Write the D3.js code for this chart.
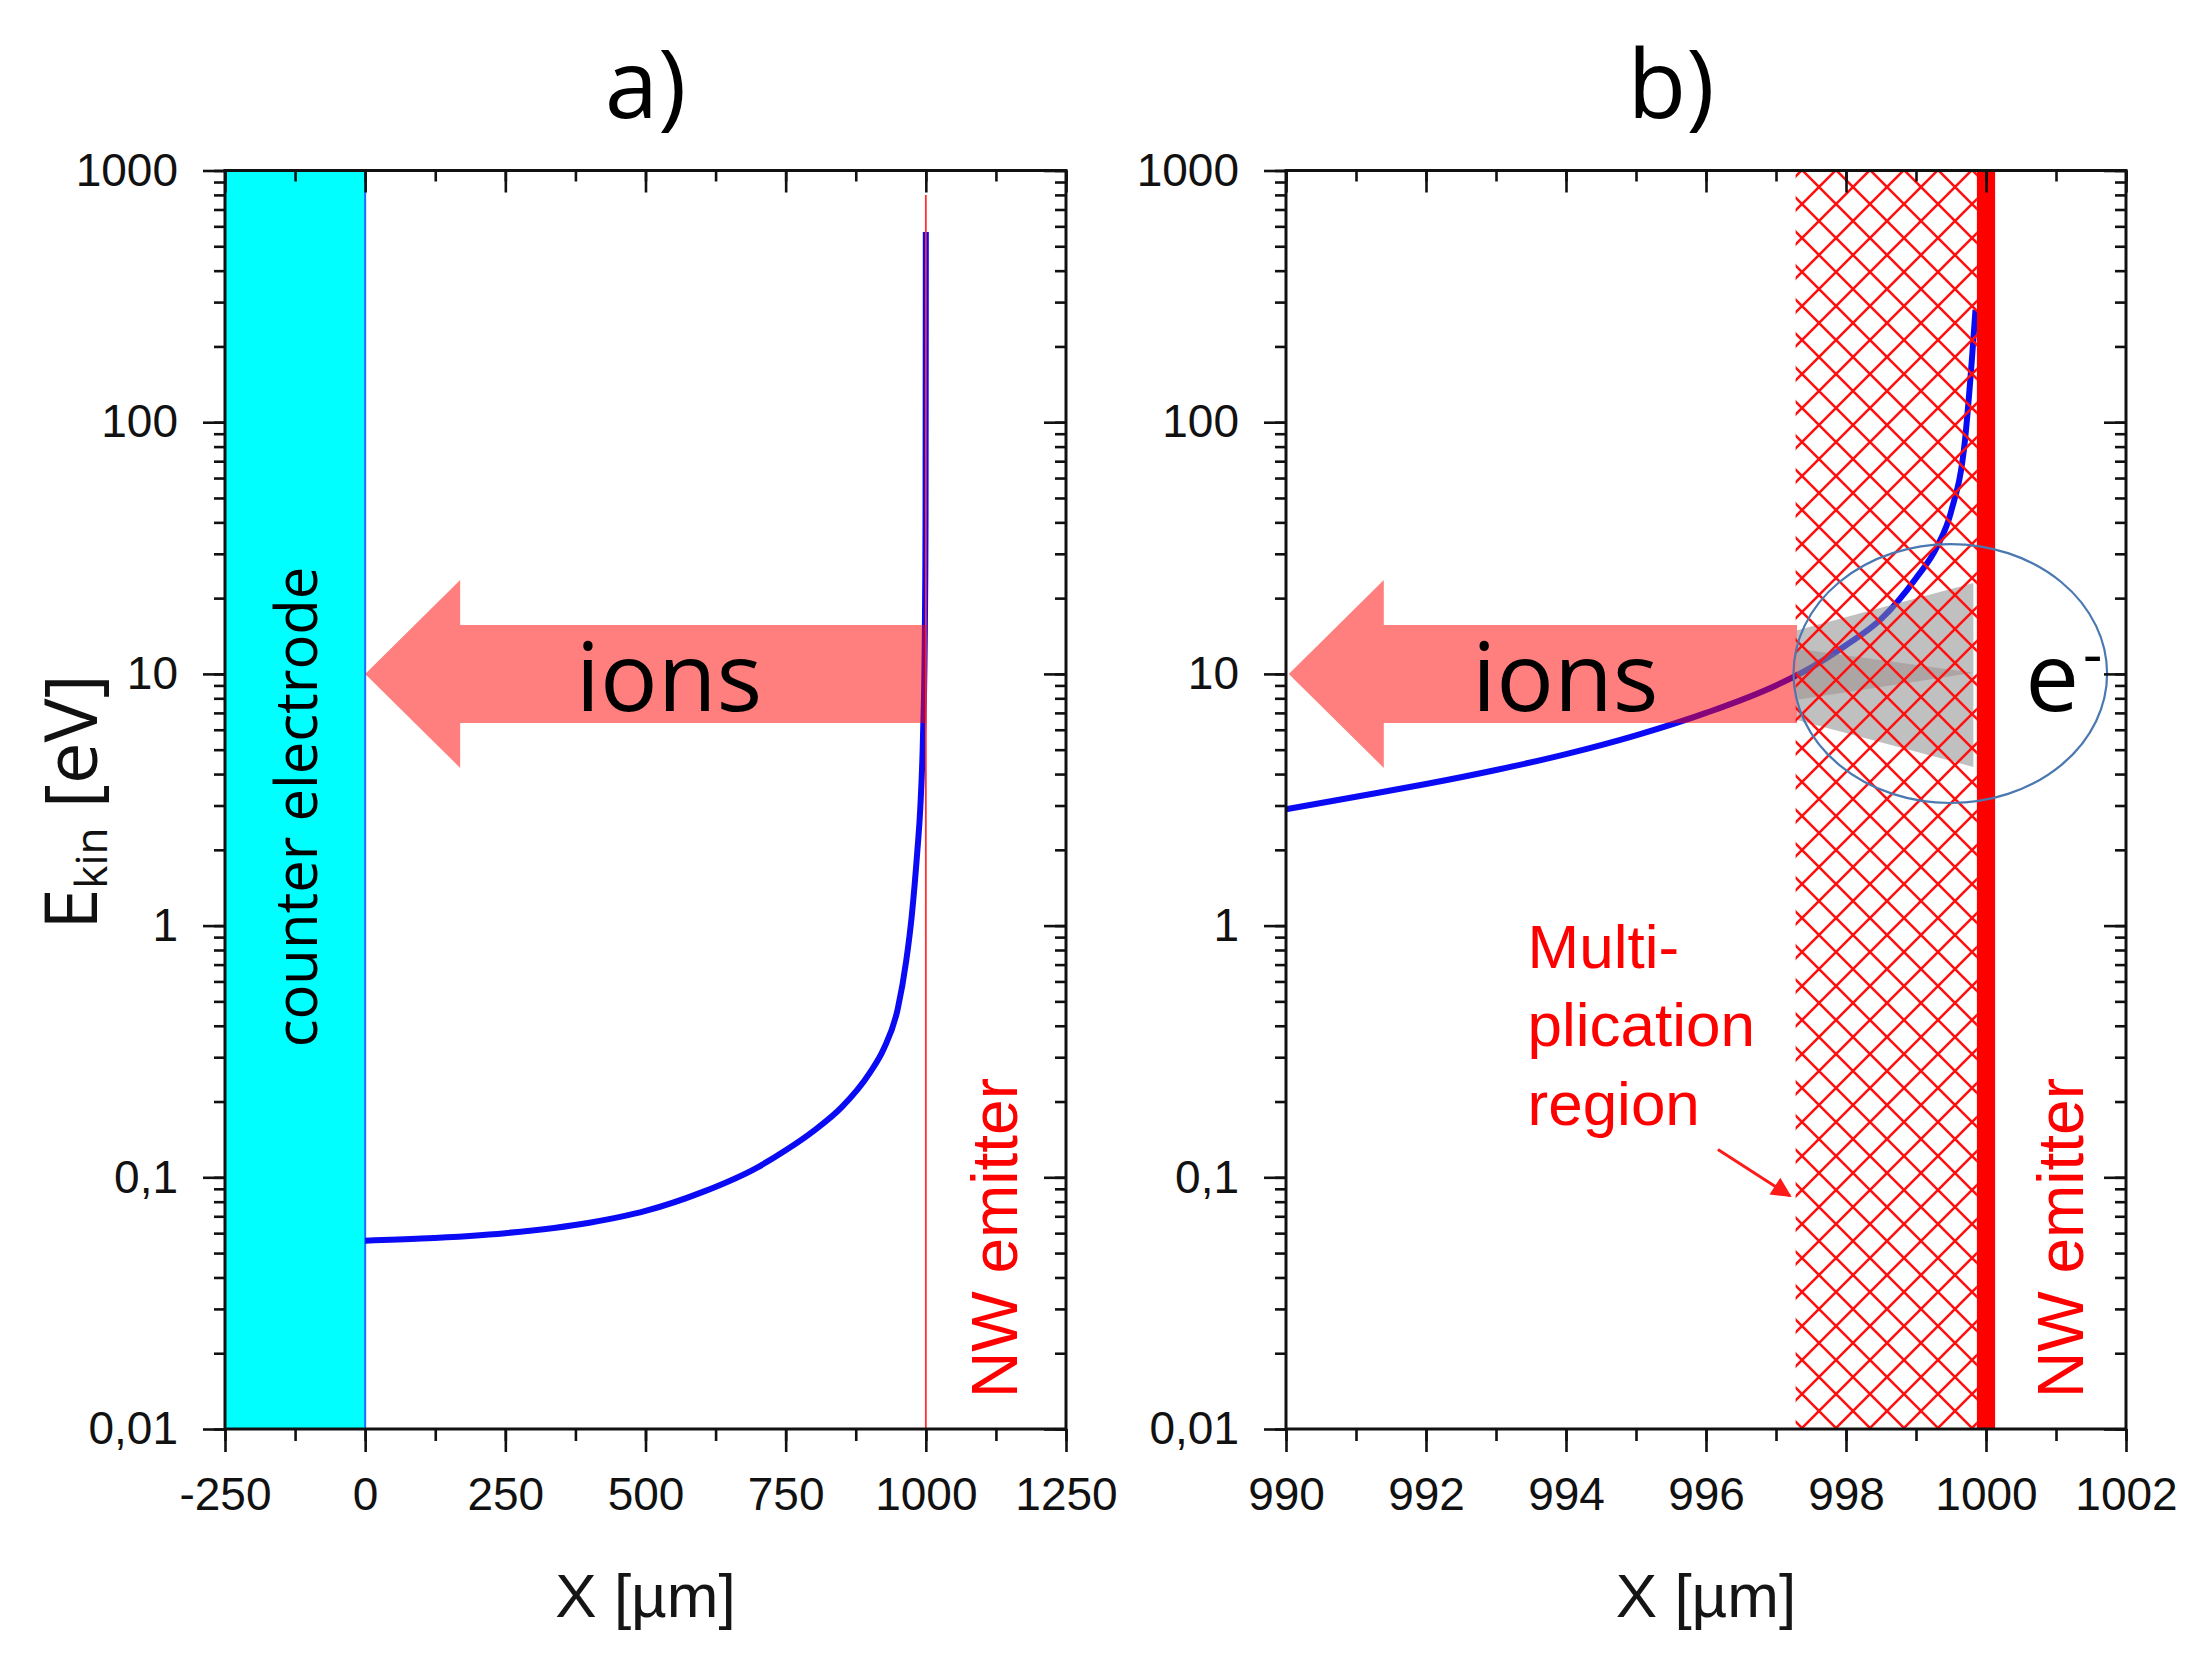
<!DOCTYPE html>
<html>
<head>
<meta charset="utf-8">
<script src="https://cdn.jsdelivr.net/npm/d3@7"></script>
<style>
  body { margin: 0; background: #fff; }
</style>
</head>
<body>
<script>
// axis ticks
var yTickValues = [0.01, 0.1, 1, 10, 100, 1000];
var yTickLabels = ["0,01", "0,1", "1", "10", "100", "1000"];
var xTicksA = [-250, 0, 250, 500, 750, 1000, 1250];
var xTicksB = [990, 992, 994, 996, 998, 1000, 1002];

// ion kinetic energy, panel a (full gap)
var curveAx = [0, 100, 250, 400, 500, 600, 700, 750, 800, 850, 900, 925, 950, 965, 975, 985, 990, 995, 998, 999, 999.5, 999.8, 1000];
var curveAy = [0.056, 0.0571, 0.060, 0.066, 0.0735, 0.0871, 0.1096, 0.128, 0.153, 0.19, 0.26, 0.324, 0.468, 0.724, 1.1, 2.0, 2.9, 5.7, 13, 24, 44, 180, 570];

// ion kinetic energy, panel b (last 10 um)
var curveBx = [990, 991, 992, 993, 994, 995, 996, 997, 997.5, 998, 998.5, 999, 999.3, 999.5, 999.7, 999.8, 999.85];
var curveBy = [2.9, 3.25, 3.65, 4.15, 4.8, 5.7, 7.0, 9.0, 10.6, 13.0, 16.5, 24, 32, 44, 85, 180, 280];

var width = 2202,
    height = 1672,
    plotTop = 170.5,
    plotBottom = 1429;

var svg = d3.select("body")
    .append("svg")
    .attr("width", width)
    .attr("height", height);

var defs = svg.append("defs");
//cross hatch for the multiplication region
defs.append("pattern")
    .attr("id", "hatch")
    .attr("patternUnits", "userSpaceOnUse")
    .attr("width", 34)
    .attr("height", 34)
    .append("path")
    .attr("d", "M0,0 L34,34 M0,34 L34,0")
    .style("stroke", "#ff1010")
    .style("stroke-width", 2.6)
    .style("fill", "none");
defs.append("marker")
    .attr("id", "redhead")
    .attr("markerUnits", "userSpaceOnUse")
    .attr("viewBox", "0 0 10 10")
    .attr("refX", 9)
    .attr("refY", 5)
    .attr("markerWidth", 26)
    .attr("markerHeight", 20)
    .attr("orient", "auto")
    .append("path")
    .attr("d", "M0,0 L10,5 L0,10 z")
    .style("fill", "#ff1a1a");

var y = d3.scaleLog().domain([0.01, 1000]).range([plotBottom, plotTop]);
var xA = d3.scaleLinear().domain([-250, 1250]).range([225, 1066]);
var xB = d3.scaleLinear().domain([990, 1002]).range([1286, 2126]);

var tickFont = "'Liberation Sans', Arial, sans-serif";
var calFont = "'Open Sans', 'Noto Sans', sans-serif";

var zip = function (xs, ys) {
    return xs.map(function (d, i) { return [d, ys[i]]; });
};

//big translucent "ions" arrow pointing to the left
var drawArrow = function (g, x, tipX, tailX) {
    var tx = x(tipX), ex = x(tailX), cy = y(10);
    var headLen = 95, headHalf = 94, shaftHalf = 49;
    g.append("path")
        .attr("d", "M" + tx + "," + cy +
            " L" + (tx + headLen) + "," + (cy - headHalf) +
            " L" + (tx + headLen) + "," + (cy - shaftHalf) +
            " L" + ex + "," + (cy - shaftHalf) +
            " L" + ex + "," + (cy + shaftHalf) +
            " L" + (tx + headLen) + "," + (cy + shaftHalf) +
            " L" + (tx + headLen) + "," + (cy + headHalf) + " Z")
        .style("fill", "#ff0000")
        .style("opacity", 0.5);
};

var drawCurve = function (g, x, pts) {
    g.append("path")
        .datum(pts)
        .attr("d", d3.line()
            .x(function (d) { return x(d[0]); })
            .y(function (d) { return y(d[1]); })
            .curve(d3.curveMonotoneX))
        .style("fill", "none")
        .style("stroke", "#0a0af5")
        .style("stroke-width", 6);
};

var rotatedText = function (g, px, py, txt, font, size, color) {
    g.append("text")
        .attr("transform", "translate(" + px + "," + py + ") rotate(-90)")
        .attr("text-anchor", "middle")
        .style("font-family", font)
        .style("font-size", size + "px")
        .style("fill", color)
        .text(txt);
};

//frame, major and minor ticks on all four sides
var drawAxes = function (g, x, xMajor, xMinor) {
    var left = x.range()[0], right = x.range()[1];
    var yMinor = y.ticks();
    var fmt = function (d) { return String(d); };
    var bottomAx = g.append("g")
        .attr("transform", "translate(0," + plotBottom + ")")
        .call(d3.axisBottom(x).tickValues(xMajor).tickSize(23).tickSizeOuter(0).tickPadding(25).tickFormat(fmt));
    g.append("g")
        .attr("transform", "translate(0," + plotBottom + ")")
        .call(d3.axisBottom(x).tickValues(xMinor).tickSize(12).tickSizeOuter(0).tickFormat(""));
    g.append("g")
        .attr("transform", "translate(0," + plotTop + ")")
        .call(d3.axisTop(x).tickValues(xMajor).tickSize(-22).tickSizeOuter(0).tickFormat(""));
    g.append("g")
        .attr("transform", "translate(0," + plotTop + ")")
        .call(d3.axisTop(x).tickValues(xMinor).tickSize(-11).tickSizeOuter(0).tickFormat(""));
    var leftAx = g.append("g")
        .attr("transform", "translate(" + left + ",0)")
        .call(d3.axisLeft(y).tickValues(yTickValues).tickSize(22).tickSizeOuter(0).tickPadding(25)
            .tickFormat(function (d, i) { return yTickLabels[i]; }));
    g.append("g")
        .attr("transform", "translate(" + left + ",0)")
        .call(d3.axisLeft(y).tickValues(yMinor).tickSize(11).tickSizeOuter(0).tickFormat(""));
    g.append("g")
        .attr("transform", "translate(" + right + ",0)")
        .call(d3.axisRight(y).tickValues(yTickValues).tickSize(-22).tickSizeOuter(0).tickFormat(""));
    g.append("g")
        .attr("transform", "translate(" + right + ",0)")
        .call(d3.axisRight(y).tickValues(yMinor).tickSize(-11).tickSizeOuter(0).tickFormat(""));
    g.selectAll(".domain").remove();
    g.selectAll(".tick line").style("stroke", "#111").style("stroke-width", 2.6);
    [bottomAx, leftAx].forEach(function (a) {
        a.selectAll("text")
            .style("font-family", tickFont)
            .style("font-size", "46px")
            .style("fill", "#111");
    });
    g.append("rect")
        .attr("x", left)
        .attr("y", plotTop)
        .attr("width", right - left)
        .attr("height", plotBottom - plotTop)
        .style("fill", "none")
        .style("stroke", "#111")
        .style("stroke-width", 3);
    //x axis title
    g.append("text")
        .attr("x", (left + right) / 2)
        .attr("y", 1617)
        .attr("text-anchor", "middle")
        .style("font-family", tickFont)
        .style("font-size", "62px")
        .style("fill", "#151515")
        .text("X [\u00b5m]");
};

// ---------------- panel a ----------------
var gA = svg.append("g");

//counter electrode block
gA.append("rect")
    .attr("x", xA(-250))
    .attr("y", plotTop)
    .attr("width", xA(0) - xA(-250))
    .attr("height", plotBottom - plotTop)
    .style("fill", "#00ffff")
    .style("stroke", "#1e6cff")
    .style("stroke-width", 2);
rotatedText(gA, xA(-125) + 22, 807, "counter electrode", calFont, 58, "#000");

drawCurve(gA, xA, zip(curveAx, curveAy));

//emitter position
gA.append("line")
    .attr("x1", xA(1000))
    .attr("x2", xA(1000))
    .attr("y1", y(800))
    .attr("y2", plotBottom)
    .style("stroke", "#ff3030")
    .style("stroke-width", 1.8);

drawArrow(gA, xA, 0, 1000);
gA.append("text")
    .attr("x", xA(542))
    .attr("y", y(10) + 37)
    .attr("text-anchor", "middle")
    .style("font-family", calFont)
    .style("font-size", "96px")
    .style("fill", "#000")
    .text("ions");
rotatedText(gA, xA(1162), 1238, "NW emitter", tickFont, 64, "#ff0000");

drawAxes(gA, xA, xTicksA, d3.range(-250, 1251, 125));

gA.append("text")
    .attr("x", (xA.range()[0] + xA.range()[1]) / 2)
    .attr("y", 118)
    .attr("text-anchor", "middle")
    .style("font-family", calFont)
    .style("font-size", "96px")
    .text("a)");

//y axis title
var yLab = gA.append("text")
    .attr("transform", "translate(97,802) rotate(-90)")
    .attr("text-anchor", "middle")
    .style("font-family", calFont)
    .style("font-size", "74px")
    .style("fill", "#111");
yLab.append("tspan").text("E");
yLab.append("tspan").attr("dy", 10).style("font-size", "44px").text("kin");
yLab.append("tspan").attr("dy", -10).text(" [eV]");

// ---------------- panel b ----------------
var gB = svg.append("g");

drawCurve(gB, xB, zip(curveBx, curveBy));
drawArrow(gB, xB, 990.04, 997.3);

//electron avalanche cone
var cone = function (pts, fill, op) {
    gB.append("path")
        .attr("d", d3.line()
            .x(function (d) { return xB(d[0]); })
            .y(function (d) { return y(d[1]); })(pts) + "Z")
        .style("fill", fill)
        .style("opacity", op);
};
cone([[997.3, 14.9], [999.82, 22.96], [999.82, 4.27], [997.3, 6.56]], "#8c8c8c", 0.55);
cone([[997.3, 12.6], [999.82, 10.1], [997.3, 7.9]], "#8a6f6f", 0.35);

//multiplication region
gB.append("rect")
    .attr("x", xB(997.28))
    .attr("y", plotTop)
    .attr("width", xB(999.87) - xB(997.28))
    .attr("height", plotBottom - plotTop)
    .style("fill", "url(#hatch)");

//nanowire emitter
gB.append("rect")
    .attr("x", xB(999.87))
    .attr("y", plotTop)
    .attr("width", xB(1000.13) - xB(999.87))
    .attr("height", plotBottom - plotTop)
    .style("fill", "#ff0000");

gB.append("ellipse")
    .attr("cx", xB((997.25 + 1001.73) / 2))
    .attr("cy", (y(32.8) + y(3.07)) / 2)
    .attr("rx", (xB(1001.73) - xB(997.25)) / 2)
    .attr("ry", (y(3.07) - y(32.8)) / 2)
    .style("fill", "none")
    .style("stroke", "#4a78b0")
    .style("stroke-width", 2.2);

gB.append("text")
    .attr("x", xB(993.99))
    .attr("y", y(10) + 37)
    .attr("text-anchor", "middle")
    .style("font-family", calFont)
    .style("font-size", "96px")
    .text("ions");

var eLab = gB.append("text")
    .attr("x", xB(1000.56))
    .attr("y", y(10) + 37)
    .style("font-family", calFont)
    .style("font-size", "96px");
eLab.append("tspan").text("e");
eLab.append("tspan").attr("dy", -36).attr("dx", 4).style("font-size", "60px").text("-");

var mult = gB.append("text")
    .attr("x", xB(993.45))
    .attr("y", y(0.68))
    .style("font-family", tickFont)
    .style("font-size", "62px")
    .style("fill", "#ff0000");
["Multi-", "plication", "region"].forEach(function (s, i) {
    mult.append("tspan")
        .attr("x", xB(993.45))
        .attr("dy", i === 0 ? 0 : 78.6)
        .text(s);
});
gB.append("line")
    .attr("x1", xB(996.17))
    .attr("y1", y(0.129))
    .attr("x2", xB(997.2))
    .attr("y2", y(0.0843))
    .attr("marker-end", "url(#redhead)")
    .style("stroke", "#ff1a1a")
    .style("stroke-width", 3);

rotatedText(gB, xB(1001.39), 1238, "NW emitter", tickFont, 64, "#ff0000");

drawAxes(gB, xB, xTicksB, d3.range(990, 1003, 1));

gB.append("text")
    .attr("x", xB(995.5))
    .attr("y", 118)
    .attr("text-anchor", "middle")
    .style("font-family", calFont)
    .style("font-size", "96px")
    .text("b)");
</script>
</body>
</html>
